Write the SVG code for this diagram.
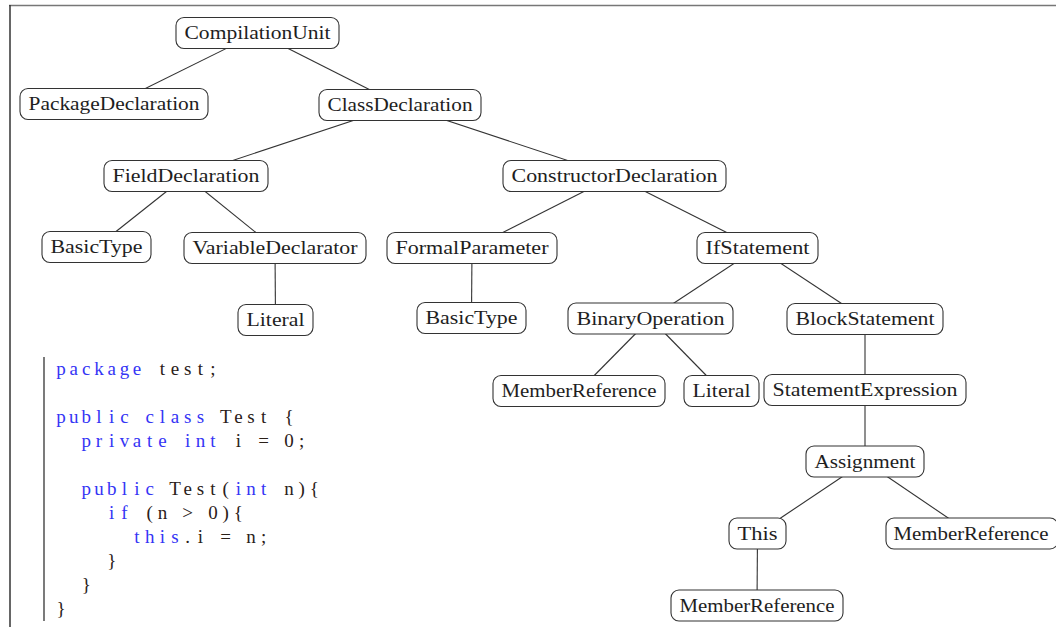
<svg xmlns="http://www.w3.org/2000/svg" width="1056" height="627" viewBox="0 0 1056 627" font-family="'Liberation Serif', 'Times New Roman', Times, 'DejaVu Serif', serif">
<style>
.box{fill:#fff;stroke:#333;stroke-width:1.1}
.lbl{font-family:'Liberation Serif','Times New Roman',Times,'DejaVu Serif',serif;font-size:19px;fill:#1e1e1e;text-anchor:middle}
.edge{stroke:#333;stroke-width:1.1;fill:none}
.code{font-family:'Liberation Serif','Times New Roman',Times,'DejaVu Serif',serif;font-size:19px;text-anchor:middle}
.kw{fill:#3434f5}
.tx{fill:#2a2018}
</style>
<rect x="0" y="0" width="1056" height="627" fill="#fff"/>
<line x1="9" y1="5.5" x2="1056" y2="5.5" stroke="#777" stroke-width="1.5"/>
<line x1="10" y1="5" x2="10" y2="627" stroke="#333" stroke-width="1.5"/>
<g id="connectors">
<line class="edge" x1="257.5" y1="33" x2="114" y2="104"/>
<line class="edge" x1="257.5" y1="33" x2="400" y2="105"/>
<line class="edge" x1="400" y1="105" x2="186" y2="176"/>
<line class="edge" x1="400" y1="105" x2="614.5" y2="176"/>
<line class="edge" x1="186" y1="176" x2="96.5" y2="247"/>
<line class="edge" x1="186" y1="176" x2="275" y2="248"/>
<line class="edge" x1="275" y1="248" x2="275.5" y2="320"/>
<line class="edge" x1="614.5" y1="176" x2="472" y2="248"/>
<line class="edge" x1="614.5" y1="176" x2="757.5" y2="248"/>
<line class="edge" x1="472" y1="248" x2="471.5" y2="318"/>
<line class="edge" x1="757.5" y1="248" x2="650.5" y2="318.5"/>
<line class="edge" x1="757.5" y1="248" x2="865" y2="319"/>
<line class="edge" x1="650.5" y1="318.5" x2="579" y2="391"/>
<line class="edge" x1="650.5" y1="318.5" x2="721.5" y2="391"/>
<line class="edge" x1="865" y1="319" x2="865" y2="390"/>
<line class="edge" x1="865" y1="390" x2="865" y2="461.5"/>
<line class="edge" x1="865" y1="461.5" x2="757.5" y2="533.5"/>
<line class="edge" x1="865" y1="461.5" x2="971" y2="533.5"/>
<line class="edge" x1="757.5" y1="533.5" x2="757" y2="605.5"/>
</g>
<g id="n1"><rect class="box" x="176" y="17.5" width="163" height="31" rx="8"/><text class="lbl" x="257.5" y="39" textLength="146" lengthAdjust="spacingAndGlyphs">CompilationUnit</text></g>
<g id="n2"><rect class="box" x="20" y="88.5" width="188" height="31" rx="8"/><text class="lbl" x="114" y="110" textLength="171" lengthAdjust="spacingAndGlyphs">PackageDeclaration</text></g>
<g id="n3"><rect class="box" x="319" y="89.5" width="162" height="31" rx="8"/><text class="lbl" x="400" y="111" textLength="145" lengthAdjust="spacingAndGlyphs">ClassDeclaration</text></g>
<g id="n4"><rect class="box" x="104" y="160.5" width="164" height="31" rx="8"/><text class="lbl" x="186" y="182" textLength="147" lengthAdjust="spacingAndGlyphs">FieldDeclaration</text></g>
<g id="n5"><rect class="box" x="503" y="160.5" width="223" height="31" rx="8"/><text class="lbl" x="614.5" y="182" textLength="206" lengthAdjust="spacingAndGlyphs">ConstructorDeclaration</text></g>
<g id="n6"><rect class="box" x="42" y="231.5" width="109" height="31" rx="8"/><text class="lbl" x="96.5" y="253" textLength="92" lengthAdjust="spacingAndGlyphs">BasicType</text></g>
<g id="n7"><rect class="box" x="184" y="232.5" width="182" height="31" rx="8"/><text class="lbl" x="275" y="254" textLength="165" lengthAdjust="spacingAndGlyphs">VariableDeclarator</text></g>
<g id="n8"><rect class="box" x="387" y="232.5" width="170" height="31" rx="8"/><text class="lbl" x="472" y="254" textLength="153" lengthAdjust="spacingAndGlyphs">FormalParameter</text></g>
<g id="n9"><rect class="box" x="697" y="232.5" width="121" height="31" rx="8"/><text class="lbl" x="757.5" y="254" textLength="104" lengthAdjust="spacingAndGlyphs">IfStatement</text></g>
<g id="n10"><rect class="box" x="238" y="304.5" width="75" height="31" rx="8"/><text class="lbl" x="275.5" y="326" textLength="58" lengthAdjust="spacingAndGlyphs">Literal</text></g>
<g id="n11"><rect class="box" x="417" y="302.5" width="109" height="31" rx="8"/><text class="lbl" x="471.5" y="324" textLength="92" lengthAdjust="spacingAndGlyphs">BasicType</text></g>
<g id="n12"><rect class="box" x="568" y="303" width="165" height="31" rx="8"/><text class="lbl" x="650.5" y="324.5" textLength="148" lengthAdjust="spacingAndGlyphs">BinaryOperation</text></g>
<g id="n13"><rect class="box" x="787" y="303.5" width="156" height="31" rx="8"/><text class="lbl" x="865" y="325" textLength="139" lengthAdjust="spacingAndGlyphs">BlockStatement</text></g>
<g id="n14"><rect class="box" x="493" y="375.5" width="172" height="31" rx="8"/><text class="lbl" x="579" y="397" textLength="155" lengthAdjust="spacingAndGlyphs">MemberReference</text></g>
<g id="n15"><rect class="box" x="684" y="375.5" width="75" height="31" rx="8"/><text class="lbl" x="721.5" y="397" textLength="58" lengthAdjust="spacingAndGlyphs">Literal</text></g>
<g id="n16"><rect class="box" x="764" y="374.5" width="202" height="31" rx="8"/><text class="lbl" x="865" y="396" textLength="185" lengthAdjust="spacingAndGlyphs">StatementExpression</text></g>
<g id="n17"><rect class="box" x="806" y="446" width="118" height="31" rx="8"/><text class="lbl" x="865" y="467.5" textLength="101" lengthAdjust="spacingAndGlyphs">Assignment</text></g>
<g id="n18"><rect class="box" x="729" y="518" width="57" height="31" rx="8"/><text class="lbl" x="757.5" y="539.5" textLength="40" lengthAdjust="spacingAndGlyphs">This</text></g>
<g id="n19"><rect class="box" x="886" y="518" width="172" height="31" rx="8"/><text class="lbl" x="971" y="539.5" textLength="155" lengthAdjust="spacingAndGlyphs">MemberReference</text></g>
<g id="n20"><rect class="box" x="671" y="590" width="172" height="31" rx="8"/><text class="lbl" x="757" y="611.5" textLength="155" lengthAdjust="spacingAndGlyphs">MemberReference</text></g>
<g id="code">
<line x1="44" y1="357" x2="44" y2="621" stroke="#333" stroke-width="1.3"/>
<text class="code kw" y="375" x="61 73.7 86.3 99 111.7 124.4 137">package</text>
<text class="code tx" y="375" x="162.4 175 187.7 200.4 213">test;</text>
<text class="code kw" y="423" x="61 73.7 86.3 99 111.7 124.4">public</text>
<text class="code kw" y="423" x="149.7 162.4 175 187.7 200.4">class</text>
<text class="code tx" y="423" x="225.7 238.4 251 263.7">Test</text>
<text class="code tx" y="423" x="289.1">{</text>
<text class="code kw" y="447" x="86.3 99 111.7 124.4 137 149.7 162.4">private</text>
<text class="code kw" y="447" x="187.7 200.4 213">int</text>
<text class="code tx" y="447" x="238.4">i</text>
<text class="code tx" y="447" x="263.7">=</text>
<text class="code tx" y="447" x="289.1 301.7">0;</text>
<text class="code kw" y="495" x="86.3 99 111.7 124.4 137 149.7">public</text>
<text class="code tx" y="495" x="175 187.7 200.4 213 225.7">Test(</text>
<text class="code kw" y="495" x="238.4 251 263.7">int</text>
<text class="code tx" y="495" x="289.1 301.7 314.4">n){</text>
<text class="code kw" y="519" x="111.7 124.4">if</text>
<text class="code tx" y="519" x="149.7 162.4">(n</text>
<text class="code tx" y="519" x="187.7">&gt;</text>
<text class="code tx" y="519" x="213 225.7 238.4">0){</text>
<text class="code kw" y="543" x="137 149.7 162.4 175">this</text>
<text class="code tx" y="543" x="187.7 200.4">.i</text>
<text class="code tx" y="543" x="225.7">=</text>
<text class="code tx" y="543" x="251 263.7">n;</text>
<text class="code tx" y="567" x="111.7">}</text>
<text class="code tx" y="591" x="86.3">}</text>
<text class="code tx" y="615" x="61">}</text>
</g>
</svg>
